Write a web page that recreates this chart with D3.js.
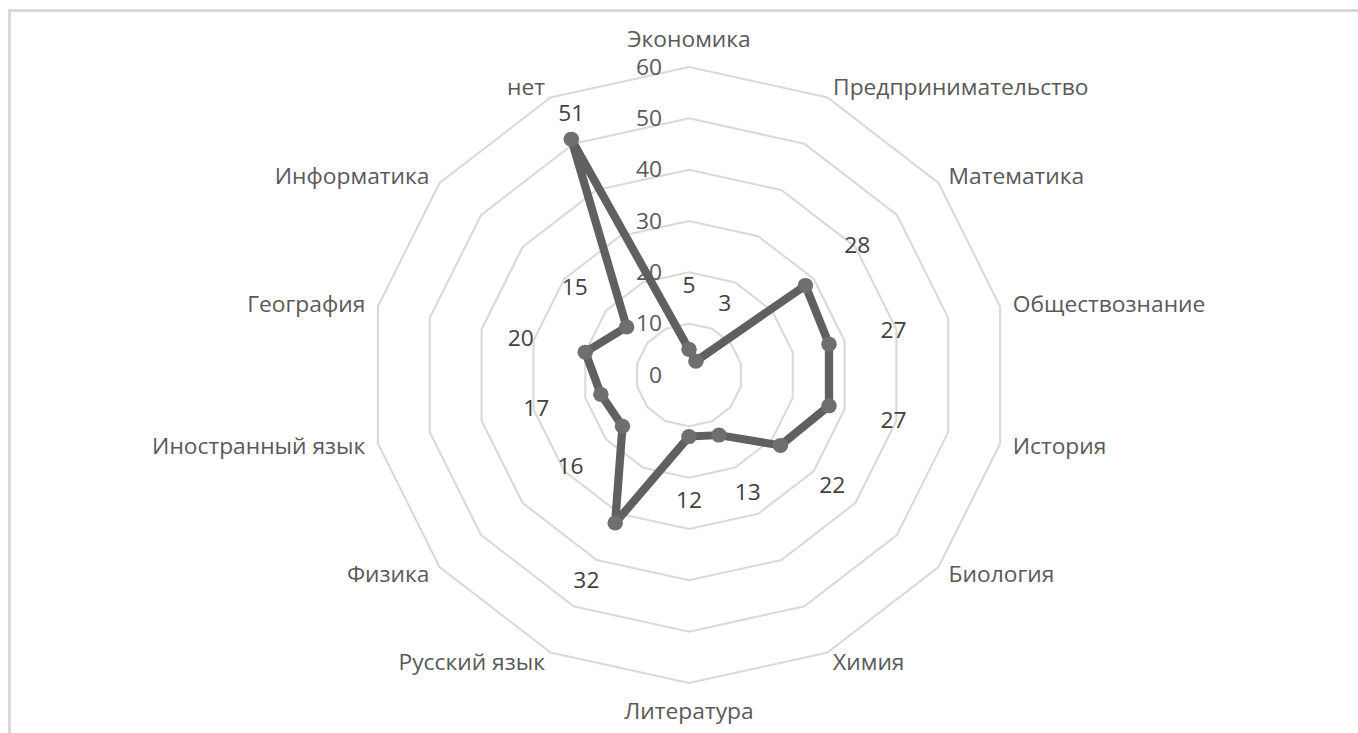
<!DOCTYPE html>
<html>
<head>
<meta charset="utf-8">
<script src="https://cdn.jsdelivr.net/npm/d3@7"></script>
<style>
  html, body { margin: 0; padding: 0; background: #fff; }
  svg { display: block; }
  text { font-family: "Open Sans", "Noto Sans", sans-serif; }
</style>
</head>
<body>
<svg id="chart" width="1358" height="733"></svg>
<script>
const categories = ["Экономика", "Предпринимательство", "Математика", "Обществознание", "История",
  "Биология", "Химия", "Литература", "Русский язык", "Физика", "Иностранный язык",
  "География", "Информатика", "нет"];
const values = [5, 3, 28, 27, 27, 22, 13, 12, 32, 16, 17, 20, 15, 51];
const ticks = [0, 10, 20, 30, 40, 50, 60];

const W = 1358, H = 733;
const sx = 1.036;              // horizontal stretch of the reference
const cx = 689 / sx, cy = 375;
const R = 308;
const n = categories.length;
const fs = 22;

const svg = d3.select("#chart");

// outer frame
svg.append("rect")
  .attr("x", 9.5).attr("y", 10.5)
  .attr("width", W + 20).attr("height", H + 20)
  .attr("fill", "none").attr("stroke", "#d9d9d9").attr("stroke-width", 3);

const g = svg.append("g").attr("transform", `scale(${sx},1)`);

const r = d3.scaleLinear().domain([0, 60]).range([0, R]);
const ang = d3.scaleLinear().domain([0, n]).range([0, 2 * Math.PI]);
const idx = d3.range(n);

const px = (i, v) => cx + r(v) * Math.sin(ang(i));
const py = (i, v) => cy - r(v) * Math.cos(ang(i));

// grid polygons
const gridLine = d3.lineRadial().angle(i => ang(i)).curve(d3.curveLinearClosed);
g.append("g").attr("transform", `translate(${cx},${cy})`)
  .selectAll("path").data(ticks.slice(1)).join("path")
  .attr("d", t => gridLine.radius(() => r(t))(idx))
  .attr("fill", "none").attr("stroke", "#d9d9d9").attr("stroke-width", 2);

// tick labels
g.append("g").selectAll("text").data(ticks).join("text")
  .attr("x", cx - 26)
  .attr("y", t => cy - r(t))
  .attr("dy", "0.35em")
  .attr("text-anchor", "end")
  .attr("font-size", fs)
  .attr("fill", "#595959")
  .text(t => t);

// category labels
g.append("g").selectAll("text").data(categories).join("text")
  .each(function (c, i) {
    const s = Math.sin(ang(i)), co = Math.cos(ang(i));
    const vx = px(i, 60), vy = py(i, 60);
    const el = d3.select(this);
    if (Math.abs(s) < 0.1) {
      el.attr("x", vx).attr("y", vy - 28 * co).attr("text-anchor", "middle");
    } else {
      el.attr("x", vx + 12.5 * s)
        .attr("y", vy - 11 * co)
        .attr("text-anchor", s > 0 ? "start" : "end");
    }
  })
  .attr("dy", "0.35em")
  .attr("font-size", fs)
  .attr("fill", "#595959")
  .text(c => c);

// data line
const dataLine = d3.lineRadial()
  .angle((d, i) => ang(i))
  .radius(d => r(d))
  .curve(d3.curveLinearClosed);
g.append("path")
  .attr("transform", `translate(${cx},${cy})`)
  .attr("d", dataLine(values))
  .attr("fill", "none")
  .attr("stroke", "#606060")
  .attr("stroke-width", 8)
  .attr("stroke-linejoin", "round");

// markers
g.append("g").selectAll("circle").data(values).join("circle")
  .attr("cx", (d, i) => px(i, d))
  .attr("cy", (d, i) => py(i, d))
  .attr("r", 7.5)
  .attr("fill", "#6f6f6f");

// data labels
const labOff = 64;
g.append("g").selectAll("text").data(values).join("text")
  .each(function (d, i) {
    const el = d3.select(this);
    const rr = r(d) + labOff;
    if (rr > R - 10) {
      el.attr("x", px(i, d)).attr("y", py(i, d) - 26);
    } else {
      el.attr("x", cx + rr * Math.sin(ang(i))).attr("y", cy - rr * Math.cos(ang(i)));
    }
  })
  .attr("dy", "0.35em")
  .attr("text-anchor", "middle")
  .attr("font-size", fs)
  .attr("fill", "#404040")
  .text(d => d);
</script>
</body>
</html>
